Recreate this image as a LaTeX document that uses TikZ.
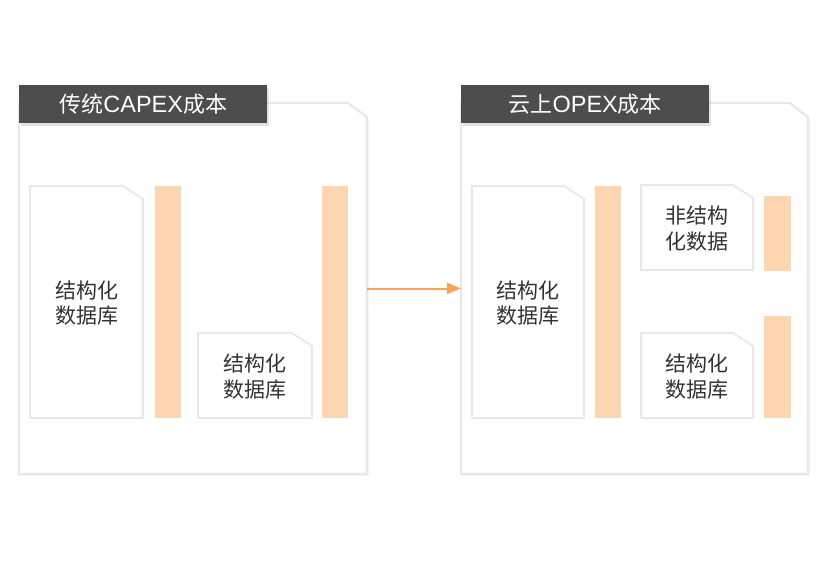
\documentclass[tikz,border=0pt]{standalone}
\usepackage{fontspec}
\newfontfamily\cjk{Noto Sans CJK SC}
\newfontfamily\latn{Liberation Sans}
\usetikzlibrary{arrows.meta,shadows}
\definecolor{barorange}{HTML}{FDD5B0}
\definecolor{arroworange}{HTML}{F7A456}
\definecolor{titlegray}{HTML}{4D4D4D}
\definecolor{txtgray}{HTML}{333333}
\definecolor{edgegray}{HTML}{E8E8E8}
\newcommand\docbox[6]{%
  \draw[docstyle] (#2,#3) -- ({#4-20},#3) -- (#4,{#3+13}) -- (#4,#5) -- (#2,#5) -- cycle;
  \node[doctext] (#1) at ({(#2+#4)/2},{(#3+#5)/2+1}) {#6};
}
\newcommand\lat[1]{{\latn\fontsize{23.5}{25}\selectfont #1}}
\begin{document}
\begin{tikzpicture}[x=1pt,y=-1pt,
  panelstyle/.style={draw=edgegray, line width=2.2pt, fill=white, line join=round,
    drop shadow={opacity=0.10, shadow xshift=1.5pt, shadow yshift=-1.5pt}},
  docstyle/.style={draw=edgegray, line width=1.8pt, fill=white, line join=round,
    drop shadow={opacity=0.10, shadow xshift=1.2pt, shadow yshift=-1.2pt}},
  doctext/.style={align=center, text=txtgray, font=\cjk\fontsize{21}{25.5}\selectfont, inner sep=0pt},
  titlebox/.style={fill=titlegray, text=white, font=\cjk\fontsize{22}{25}\selectfont,
    minimum width=248pt, minimum height=38pt, inner sep=0pt, anchor=north west,
    drop shadow={opacity=0.22, shadow xshift=2pt, shadow yshift=-2.5pt}},
  barbox/.style={fill=barorange, draw=none, inner sep=0pt, outer sep=0pt, anchor=north west},
  ghost/.style={draw=none, inner sep=0pt, outer sep=0pt}
]
\useasboundingbox (0,0) rectangle (825,560);
\fill[white] (0,0) rectangle (825,560);

% left panel
\draw[panelstyle] (19,103) -- (348,103) -- (367,117) -- (367,474) -- (19,474) -- cycle;
\node[ghost, minimum width=348pt, minimum height=371pt] (lp) at (193,288.5) {};
\node[titlebox] (lt) at (19,85) {传统\lat{CAPEX}成本};

\docbox{ld1}{30}{186}{143}{418}{结构化\\数据库}
\node[barbox, minimum width=26pt, minimum height=232pt] (lb1) at (155,186) {};
\docbox{ld2}{198}{333}{312}{418}{结构化\\数据库}
\node[barbox, minimum width=26pt, minimum height=232pt] (lb2) at (322,186) {};

% right panel
\draw[panelstyle] (461,103) -- (790,103) -- (808,117) -- (808,474) -- (461,474) -- cycle;
\node[ghost, minimum width=347pt, minimum height=371pt] (rp) at (634.5,288.5) {};
\node[titlebox] (rt) at (461,85) {云上\lat{OPEX}成本};

\docbox{rd1}{472}{186}{584}{418}{结构化\\数据库}
\node[barbox, minimum width=26pt, minimum height=232pt] (rb1) at (595,186) {};
\docbox{rd2}{641}{185}{753}{270}{非结构\\化数据}
\node[barbox, minimum width=27pt, minimum height=75pt] (rb2) at (764,196) {};
\docbox{rd3}{641}{333}{753}{418}{结构化\\数据库}
\node[barbox, minimum width=27pt, minimum height=102pt] (rb3) at (764,316) {};

% arrow
\draw[arroworange, line width=2pt, -{Triangle[length=14pt,width=11pt]}] (lp.east) -- (rp.west);
\end{tikzpicture}
\end{document}
